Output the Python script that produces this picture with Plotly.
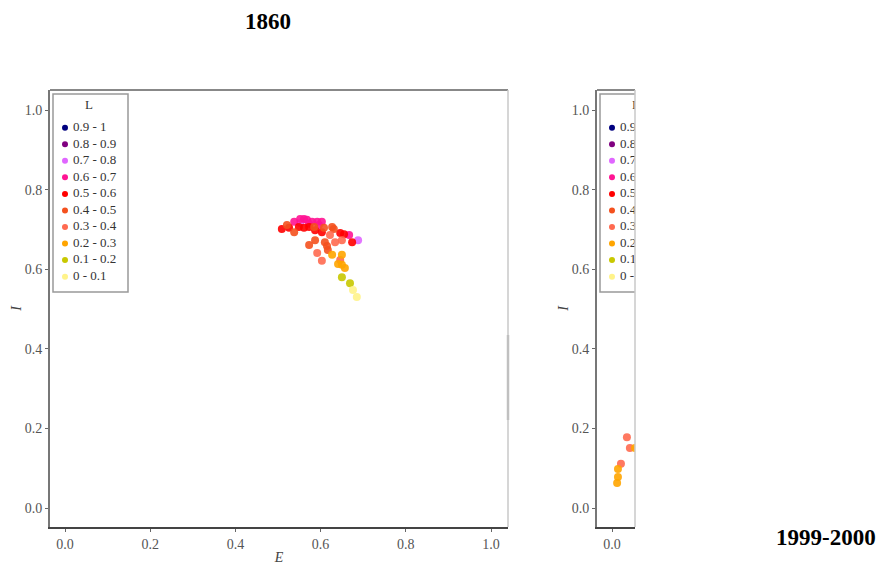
import plotly.graph_objects as go

# ---------------- data ----------------
CATEGORIES = ["0.9 - 1", "0.8 - 0.9", "0.7 - 0.8", "0.6 - 0.7", "0.5 - 0.6",
              "0.4 - 0.5", "0.3 - 0.4", "0.2 - 0.3", "0.1 - 0.2", "0 - 0.1"]
COLORS = ["#00007f", "#800080", "#e066ff", "#ff1493", "#ff0000",
          "#f4511e", "#ff6a50", "#ffa500", "#c8c800", "#fff38a"]

# panel 1860
E_1860 = [0.552, 0.688,
          0.538, 0.561, 0.568, 0.580, 0.592, 0.603, 0.596, 0.667, 0.552, 0.573,
          0.509, 0.526, 0.549, 0.561, 0.573, 0.587, 0.603, 0.646, 0.655, 0.674,
          0.521, 0.538, 0.585, 0.608, 0.627, 0.631, 0.573, 0.587, 0.610, 0.615, 0.617,
          0.622, 0.634, 0.650, 0.592, 0.603, 0.646,
          0.627, 0.650, 0.650, 0.657, 0.641,
          0.650, 0.669,
          0.676, 0.685]
I_1860 = [0.716, 0.673,
          0.719, 0.726, 0.724, 0.719, 0.719, 0.719, 0.711, 0.686, 0.726, 0.714,
          0.701, 0.704, 0.706, 0.704, 0.706, 0.698, 0.693, 0.691, 0.688, 0.668,
          0.711, 0.693, 0.706, 0.704, 0.706, 0.701, 0.661, 0.673, 0.668, 0.658, 0.648,
          0.686, 0.668, 0.673, 0.641, 0.621, 0.623,
          0.636, 0.636, 0.611, 0.603, 0.613,
          0.580, 0.565,
          0.548, 0.530]
L_1860 = ["0.7 - 0.8"] * 2 + ["0.6 - 0.7"] * 10 + ["0.5 - 0.6"] * 10 + \
         ["0.4 - 0.5"] * 11 + ["0.3 - 0.4"] * 6 + ["0.2 - 0.3"] * 5 + \
         ["0.1 - 0.2"] * 2 + ["0 - 0.1"] * 2

# panel 1999-2000 (visible part)
E_2000 = [0.035, 0.042, 0.021, 0.054, 0.014, 0.014, 0.012]
I_2000 = [0.178, 0.151, 0.111, 0.151, 0.098, 0.078, 0.063]
L_2000 = ["0.3 - 0.4", "0.3 - 0.4", "0.3 - 0.4",
          "0.2 - 0.3", "0.2 - 0.3", "0.2 - 0.3", "0.2 - 0.3"]

TICKS = [0.0, 0.2, 0.4, 0.6, 0.8, 1.0]
TITLES = ["1860", "1999-2000"]

# ---------------- layout helpers ----------------
W, H = 886, 565
SERIF = "Liberation Serif, Times New Roman, serif"
PX_PER_UNIT_X = 426.0
PX_PER_UNIT_Y = 398.0
PLOT_TOP, PLOT_BOTTOM = 90, 527
Y0_PX = 508  # pixel row of I = 0


def px_to_x(px, origin):
    return (px - origin) / PX_PER_UNIT_X


def py_to_y(py):
    return (Y0_PX - py) / PX_PER_UNIT_Y


panels = [
    dict(xa="x", ya="y", left=50, right=508, origin=65),
    dict(xa="x2", ya="y2", left=597, right=635, origin=612),
]

fig = go.Figure()
datasets = [(E_1860, I_1860, L_1860), (E_2000, I_2000, L_2000)]

for p, (E, I, L) in zip(panels, datasets):
    # data points per category
    for cat, col in zip(CATEGORIES, COLORS):
        xs = [e for e, l in zip(E, L) if l == cat]
        ys = [i for i, l in zip(I, L) if l == cat]
        if not xs:
            continue
        fig.add_trace(go.Scatter(
            x=xs, y=ys, mode="markers", name=cat, showlegend=False,
            xaxis=p["xa"], yaxis=p["ya"],
            marker=dict(size=8, color=col, opacity=0.9, line=dict(width=0)),
            hoverinfo="skip"))

    # hand-made legend (clipped with the panel)
    o = p["origin"]
    item_py = [127.7 + 16.55 * k for k in range(len(CATEGORIES))]
    fig.add_trace(go.Scatter(
        x=[px_to_x(o, o)] * len(CATEGORIES), y=[py_to_y(v) for v in item_py],
        mode="markers", showlegend=False, xaxis=p["xa"], yaxis=p["ya"],
        marker=dict(size=6, color=COLORS, symbol="circle"), hoverinfo="skip"))
    fig.add_trace(go.Scatter(
        x=[px_to_x(o + 8, o)] * len(CATEGORIES), y=[py_to_y(v) for v in item_py],
        mode="text", text=CATEGORIES, textposition="middle right",
        textfont=dict(family=SERIF, size=13, color="#333"),
        showlegend=False, xaxis=p["xa"], yaxis=p["ya"], hoverinfo="skip"))
    fig.add_trace(go.Scatter(
        x=[px_to_x(o + 24, o)], y=[py_to_y(106)], mode="text", text=["L"],
        textposition="middle center",
        textfont=dict(family=SERIF, size=13, color="#333"),
        showlegend=False, xaxis=p["xa"], yaxis=p["ya"], hoverinfo="skip"))
    fig.add_shape(type="rect", xref=p["xa"], yref=p["ya"],
                  x0=px_to_x(p["left"] + 3, o), x1=px_to_x(128 - 65 + o, o),
                  y0=py_to_y(292), y1=py_to_y(94),
                  line=dict(color="#999", width=1.5), layer="below")

    # frame: top and right borders
    fig.add_shape(type="line", xref=p["xa"] + " domain", yref=p["ya"] + " domain",
                  x0=0, x1=1, y0=1, y1=1, line=dict(color="#888", width=2))
    fig.add_shape(type="line", xref=p["xa"] + " domain", yref=p["ya"] + " domain",
                  x0=1, x1=1, y0=0, y1=1, line=dict(color="#c8c8c8", width=1.5))

# grey segment on the right edge of the first panel
fig.add_shape(type="line", xref="x domain", yref="y domain",
              x0=1, x1=1,
              y0=(PLOT_BOTTOM - 420) / (PLOT_BOTTOM - PLOT_TOP),
              y1=(PLOT_BOTTOM - 335) / (PLOT_BOTTOM - PLOT_TOP),
              line=dict(color="#c0c0c0", width=2.5))

ydom = [1 - PLOT_BOTTOM / H, 1 - PLOT_TOP / H]
yrange = [py_to_y(PLOT_BOTTOM), py_to_y(PLOT_TOP)]

axis_common = dict(showgrid=False, zeroline=False, showline=True,
                   ticks="outside", ticklen=3, tickcolor="#666",
                   tickvals=TICKS, tickformat=".1f",
                   tickfont=dict(family=SERIF, size=14, color="#555"))

fig.update_layout(
    width=W, height=H,
    margin=dict(l=0, r=0, t=0, b=0),
    paper_bgcolor="white", plot_bgcolor="white",
    showlegend=False,
    xaxis=dict(domain=[50 / W, 508 / W],
               range=[px_to_x(50, 65), px_to_x(508, 65)],
               linecolor="#444", linewidth=2,
               title=dict(text="<i>E</i>", font=dict(family=SERIF, size=14, color="#444"),
                          standoff=2),
               anchor="y", **axis_common),
    yaxis=dict(domain=ydom, range=yrange, linecolor="#777", linewidth=2,
               title=dict(text="<i>I</i>", font=dict(family=SERIF, size=14, color="#444"),
                          standoff=0),
               anchor="x", **axis_common),
    xaxis2=dict(domain=[597 / W, 635 / W],
                range=[px_to_x(597, 612), px_to_x(635, 612)],
                linecolor="#444", linewidth=2, anchor="y2", **axis_common),
    yaxis2=dict(domain=ydom, range=yrange, linecolor="#777", linewidth=2,
                title=dict(text="<i>I</i>", font=dict(family=SERIF, size=14, color="#444"),
                           standoff=0),
                anchor="x2", **axis_common),
    annotations=[
        dict(text="<b>" + TITLES[0] + "</b>", x=268 / W, y=1 - 22 / H,
             xref="paper", yref="paper", showarrow=False,
             font=dict(family=SERIF, size=23, color="black"),
             xanchor="center", yanchor="middle"),
        dict(text="<b>" + TITLES[1] + "</b>", x=826 / W, y=1 - 537 / H,
             xref="paper", yref="paper", showarrow=False,
             font=dict(family=SERIF, size=23, color="black"),
             xanchor="center", yanchor="middle"),
    ],
)

fig.write_html("out.html",
               config={"displayModeBar": False},
               post_script="document.body.style.margin='0';"
                           "document.body.style.overflow='hidden';")
